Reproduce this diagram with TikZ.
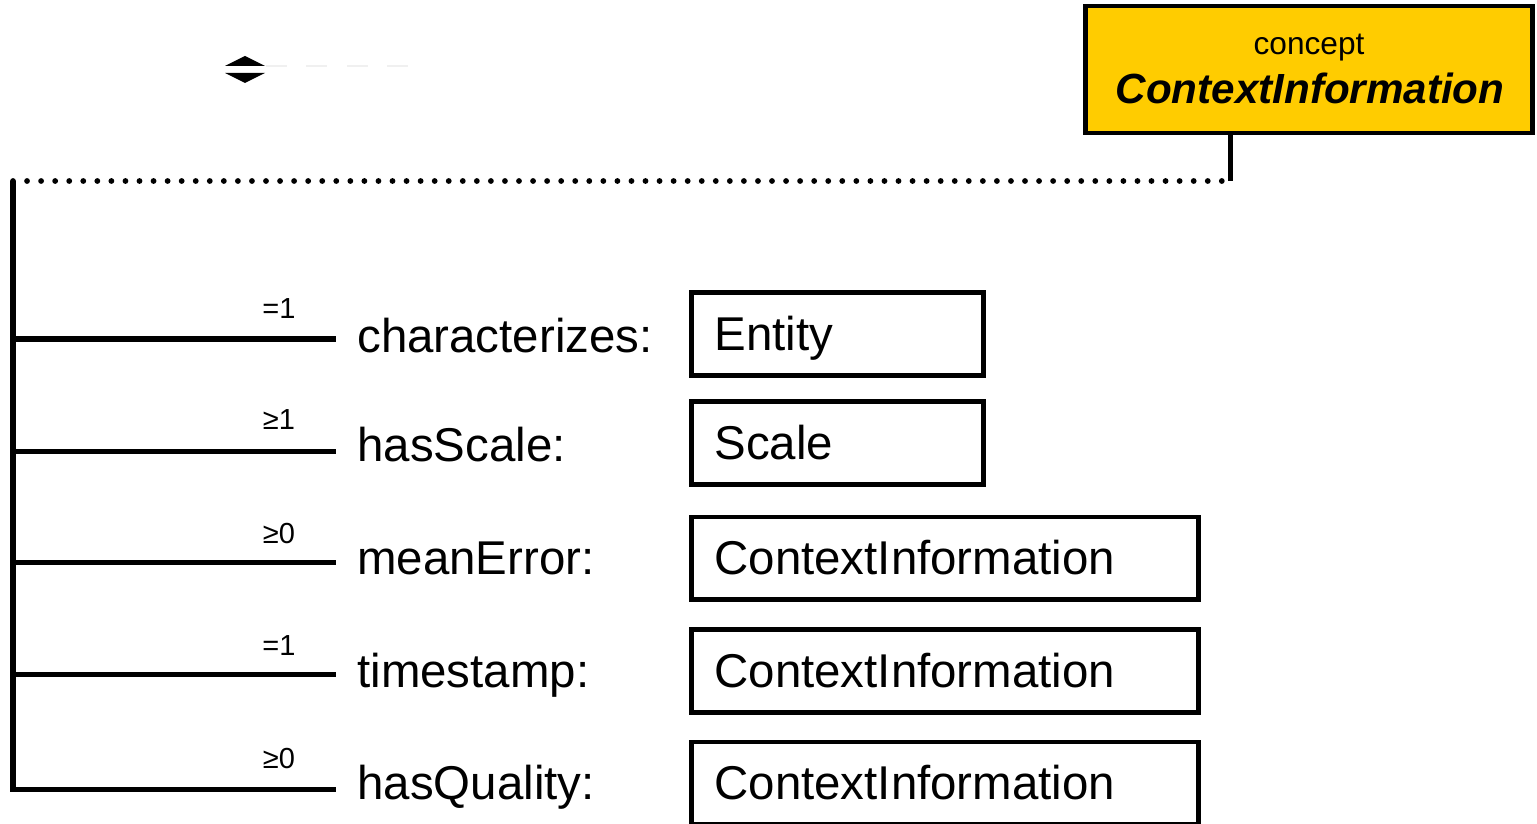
\documentclass[tikz,border=0pt]{standalone}
\usepackage{fontspec}
\setmainfont{Liberation Sans}
\usetikzlibrary{positioning}

\definecolor{conceptyellow}{RGB}{255,204,0}

\tikzset{
  conceptbox/.style={draw,line width=2.8pt,fill=conceptyellow,minimum width=8.95cm,minimum height=2.54cm,inner sep=0pt},
  typebox/.style={draw,line width=2.7pt,anchor=north west,inner xsep=0.46cm,inner ysep=0pt,text height=1.16cm,text depth=0.5cm,text width=#1,align=left,font=\fontsize{27}{32}\selectfont},
  rolelabel/.style={anchor=base west,inner sep=0pt,font=\fontsize{27}{32}\selectfont},
  cardlabel/.style={anchor=base,inner sep=0pt,font=\fontsize{16.5}{19}\selectfont},
  relline/.style={line width=2.85pt},
}

\begin{document}
\begin{tikzpicture}[x=0.02cm,y=-0.02cm]
		\useasboundingbox (0,0) rectangle (1537,824);
		% toggle icon
		\fill (225,66) -- (265,66) -- (245,56) -- cycle;
		\fill (225,73) -- (265,73) -- (245,83) -- cycle;
		\draw[gray!12,line width=0.6pt,dash pattern=on 12pt off 11pt] (266,66) -- (415,66);
		% concept header
		\node[conceptbox] (ctxInfo) at (1309,69.5) {};
		\node[anchor=base,inner sep=0pt,font=\fontsize{18}{20}\selectfont] (ctxKind) at (1309,55) {concept};
		\node[anchor=base,inner sep=0pt,font=\fontsize{24}{28}\selectfont\bfseries\itshape] (ctxName) at (1310,104) {ContextInformation};
		% spine
		\coordinate (spineTop) at (13,181);
		\coordinate (joint) at (1230,181);
		\draw[line width=3.3pt,line cap=round,dash pattern=on 0pt off 8pt] (spineTop) -- (joint);
		\draw[relline] (ctxInfo.south -| joint) -- (joint);
		\coordinate (s1) at (13,339);
		\coordinate (s2) at (13,451);
		\coordinate (s3) at (13,562);
		\coordinate (s4) at (13,674);
		\coordinate (s5) at (13,789);
		\coordinate (e1) at (336,339);
		\coordinate (e2) at (336,451);
		\coordinate (e3) at (336,562);
		\coordinate (e4) at (336,674);
		\coordinate (e5) at (336,789);
		\draw[relline] (spineTop) -- (s5) -- (e5);
		\draw[relline] (s1) -- (e1);
		\draw[relline] (s2) -- (e2);
		\draw[relline] (s3) -- (e3);
		\draw[relline] (s4) -- (e4);
		% cardinalities
		\node[cardlabel] (c1) at (279,318) {=1};
		\node[cardlabel] (c2) at (279,429) {≥1};
		\node[cardlabel] (c3) at (279,543) {≥0};
		\node[cardlabel] (c4) at (279,655) {=1};
		\node[cardlabel] (c5) at (279,768) {≥0};
		% roles
		\node[rolelabel] (rChar) at (357,352) {characterizes:};
		\node[rolelabel] (rScale) at (357,461) {hasScale:};
		\node[rolelabel] (rMean) at (357,574) {meanError:};
		\node[rolelabel] (rTime) at (357,687) {timestamp:};
		\node[rolelabel] (rQual) at (357,799) {hasQuality:};
		% range types
		\node[typebox=4.92cm] (tEntity) at (689,290) {Entity};
		\node[typebox=4.92cm] (tScale) at (689,399) {Scale};
		\node[typebox=9.22cm] (tMean) at (689,514.5) {ContextInformation};
		\node[typebox=9.22cm] (tTime) at (689,627) {ContextInformation};
		\node[typebox=9.22cm] (tQual) at (689,739.5) {ContextInformation};
\end{tikzpicture}
\end{document}
